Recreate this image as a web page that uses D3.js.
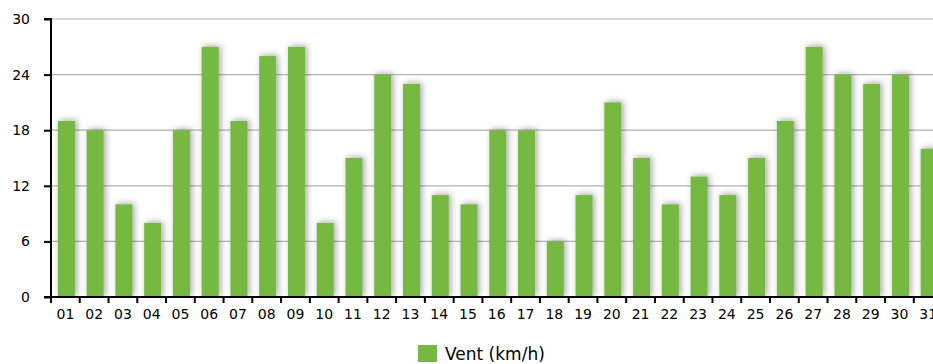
<!DOCTYPE html>
<html><head><meta charset="utf-8">
<script src="https://cdn.jsdelivr.net/npm/d3@7"></script>
<style>html,body{margin:0;padding:0;background:#fff;}svg{display:block;}</style>
</head><body>
<svg id="chart" width="933" height="364"></svg>
<script>
const days = ["01","02","03","04","05","06","07","08","09","10","11","12","13","14","15","16","17","18","19","20","21","22","23","24","25","26","27","28","29","30","31"];
const vent = [19,18,10,8,18,27,19,26,27,8,15,24,23,11,10,18,18,6,11,21,15,10,13,11,15,19,27,24,23,24,16];
const yTicks = [0,6,12,18,24,30];
const seriesName = "Vent (km/h)";

(function(){
const svg = d3.select("#chart");
const mLeft = 51, mTop = 19, mBottom = 297;
const step = 28.76;
const mRight = mLeft + step * days.length;
const font = "'DejaVu Sans', Verdana, sans-serif";

const defs = svg.append("defs");
const f = defs.append("filter").attr("id","sh").attr("x","-50%").attr("y","-20%").attr("width","200%").attr("height","140%");
f.append("feDropShadow").attr("dx",2).attr("dy",-1).attr("stdDeviation",3.2).attr("flood-color","#000").attr("flood-opacity",0.35);
const clip = defs.append("clipPath").attr("id","clip");
clip.append("rect").attr("x",mLeft).attr("y",0).attr("width",933-mLeft).attr("height",mBottom);

const x = d3.scaleBand().domain(days).range([mLeft, mRight]).padding(0);
const y = d3.scaleLinear().domain([0,30]).range([mBottom, mTop]);

// grid
svg.append("g").selectAll("line").data(yTicks.filter(t=>t>0)).join("line")
  .attr("x1",mLeft).attr("x2",933).attr("y1",d=>y(d)).attr("y2",d=>y(d))
  .attr("stroke","#b3b3b3").attr("stroke-width",1.2);

// bars
const bw = 17;
svg.append("g").attr("clip-path","url(#clip)").selectAll("rect").data(days).join("rect")
  .attr("x",(d)=>x(d)+(x.bandwidth()-bw)/2+1)
  .attr("y",(d,i)=>y(vent[i]))
  .attr("width",bw)
  .attr("height",(d,i)=>mBottom-y(vent[i]))
  .attr("fill","#77b843")
  .attr("filter","url(#sh)");

// y axis
const ya = d3.axisLeft(y).tickValues(yTicks).tickSize(7).tickPadding(14).tickFormat(d3.format("d"));
const yg = svg.append("g").attr("transform",`translate(${mLeft},0)`).call(ya);
yg.select(".domain").attr("stroke","#000").attr("stroke-width",2).attr("d",`M-7,${mTop}H0V${mBottom}`);
yg.selectAll(".tick line").attr("stroke","#000").attr("stroke-width",2);
yg.selectAll("text").attr("font-family",font).attr("font-size",14).attr("fill","#000").attr("dy","0.32em");

// x axis
const xa = d3.axisBottom(x).tickSize(0).tickPadding(12);
const xg = svg.append("g").attr("transform",`translate(0,${mBottom})`).call(xa);
xg.select(".domain").remove();
xg.selectAll("text").attr("font-family",font).attr("font-size",14).attr("fill","#000");
svg.append("line").attr("x1",mLeft-7).attr("x2",933).attr("y1",mBottom).attr("y2",mBottom).attr("stroke","#000").attr("stroke-width",2);
const tickPos = d3.range(days.length+1).map(i=>mLeft+i*x.step());
svg.append("g").selectAll("line").data(tickPos).join("line")
  .attr("x1",d=>d).attr("x2",d=>d).attr("y1",mBottom).attr("y2",mBottom+6)
  .attr("stroke","#000").attr("stroke-width",2);

// legend
const lg = svg.append("g").attr("transform","translate(418,345)");
lg.append("rect").attr("width",19).attr("height",17).attr("fill","#77b843");
lg.append("text").attr("x",27).attr("y",15).attr("font-family",font).attr("font-size",17).attr("fill","#000").text(seriesName);
})();
</script>
</body></html>
